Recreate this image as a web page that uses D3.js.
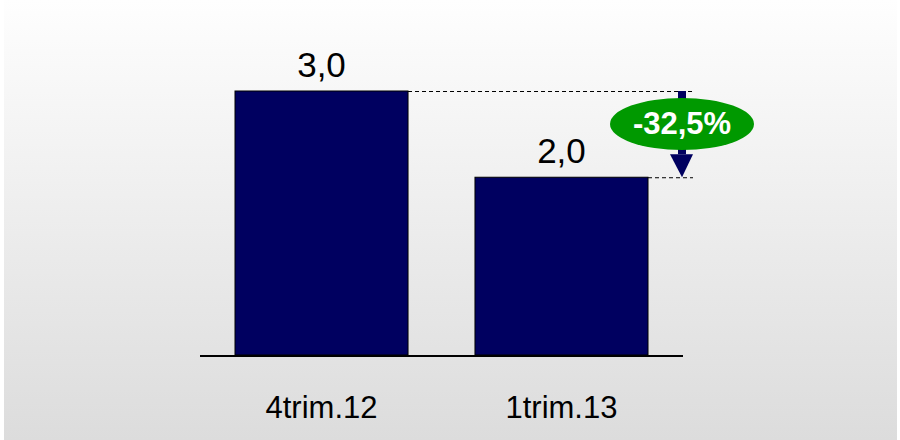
<!DOCTYPE html>
<html><head><meta charset="utf-8">
<script src="https://cdn.jsdelivr.net/npm/d3@7"></script>
<style>html,body{margin:0;padding:0;background:#fff;}svg{display:block;}</style>
</head><body>
<svg id="c" width="900" height="440"></svg>
<script>
const categories = ["4trim.12", "1trim.13"];
const values = [3.0, 2.02];
const valueLabels = ["3,0", "2,0"];
const changeLabel = "-32,5%";

const svg = d3.select("#c");
const defs = svg.append("defs");
const grad = defs.append("linearGradient").attr("id","bg").attr("x1",0).attr("y1",0).attr("x2",0).attr("y2",1);
grad.append("stop").attr("offset","0%").attr("stop-color","#fefefe");
grad.append("stop").attr("offset","100%").attr("stop-color","#dcdcdc");
svg.append("rect").attr("x",4).attr("y",0).attr("width",893).attr("height",440).attr("fill","url(#bg)");

const x = d3.scaleBand().domain(categories).range([235, 648]).paddingInner(0.279).paddingOuter(0);
const y = d3.scaleLinear().domain([0, 3.0]).range([355, 91]);

const font = "'Liberation Sans', Arial, sans-serif";

svg.selectAll("rect.bar").data(values).enter().append("rect")
  .attr("class","bar")
  .attr("x",(d,i)=>x(categories[i]))
  .attr("y",d=>y(d))
  .attr("width",x.bandwidth())
  .attr("height",d=>y(0)-y(d))
  .attr("fill","#000060").attr("stroke","#000").attr("stroke-width",1);

// baseline
svg.append("line").attr("x1",200).attr("x2",683).attr("y1",y(0)+1).attr("y2",y(0)+1)
  .attr("stroke","#000").attr("stroke-width",2);

// value labels
svg.selectAll("text.val").data(values).enter().append("text")
  .attr("x",(d,i)=>x(categories[i])+x.bandwidth()/2)
  .attr("y",d=>y(d)-14)
  .attr("text-anchor","middle").attr("font-family",font).attr("font-size",35)
  .attr("fill","#000").text((d,i)=>valueLabels[i]);

// category labels
svg.selectAll("text.cat").data(categories).enter().append("text")
  .attr("x",d=>x(d)+x.bandwidth()/2)
  .attr("y",418)
  .attr("text-anchor","middle").attr("font-family",font).attr("font-size",31)
  .attr("fill","#000").text(d=>d);

// dashed guides
const ax = 682;
const xEnd = 693;
values.forEach((v,i)=>{
  svg.append("line").attr("x1",x(categories[i])+x.bandwidth()).attr("x2",xEnd)
    .attr("y1",y(v)+0.5).attr("y2",y(v)+0.5)
    .attr("stroke","#000").attr("stroke-width",1).attr("stroke-dasharray","4,3");
});

// arrow
const yTop = y(values[0]), yBot = y(values[1]);
svg.append("rect").attr("x",ax-4).attr("y",yTop).attr("width",8).attr("height",(yBot-23)-yTop).attr("fill","#000060");
svg.append("path").attr("d",`M${ax-12},${yBot-23}L${ax+11},${yBot-23}L${ax},${yBot}Z`).attr("fill","#000060");

// ellipse
const ey = 124;
svg.append("ellipse").attr("cx",ax).attr("cy",ey).attr("rx",72).attr("ry",26).attr("fill","#009900");
svg.append("text").attr("x",ax).attr("y",ey+10).attr("text-anchor","middle")
  .attr("font-family",font).attr("font-weight","bold").attr("font-size",31)
  .attr("fill","#fff").text(changeLabel);
</script>
</body></html>
